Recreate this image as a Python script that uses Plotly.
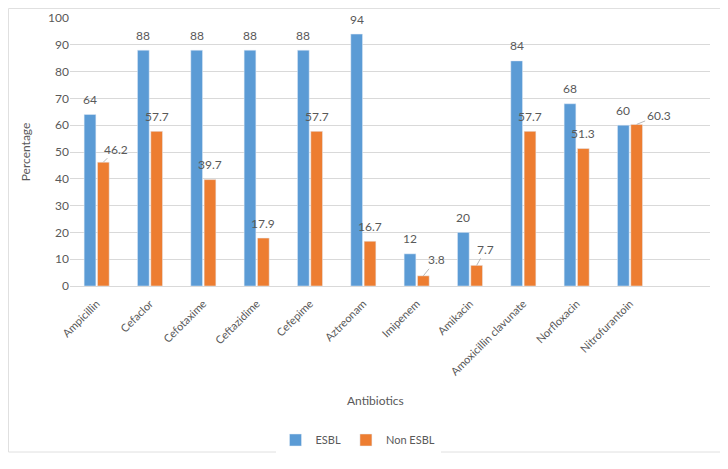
import plotly.graph_objects as go

categories = ["Ampicillin", "Cefaclor", "Cefotaxime", "Ceftazidime", "Cefepime", "Aztreonam",
              "Imipenem", "Amikacin", "Amoxicillin clavunate", "Norfloxacin", "Nitrofurantoin"]
esbl = [64, 88, 88, 88, 88, 94, 12, 20, 84, 68, 60]
non_esbl = [46.2, 57.7, 39.7, 17.9, 57.7, 16.7, 3.8, 7.7, 57.7, 51.3, 60.3]
y_ticks = [0, 10, 20, 30, 40, 50, 60, 70, 80, 90, 100]

FONT = "Lato, Open Sans, sans-serif"
GREY = "#595959"
BLUE = "#5B9BD5"
ORANGE = "#ED7D31"

# label placement tweaks (pixels): (dx, dy) for labels drawn with a leader line
leader_offsets = {
    ("Non ESBL", "Ampicillin"): (13, -13),
    ("Non ESBL", "Imipenem"): (13, -16),
    ("Non ESBL", "Amikacin"): (9, -16),
    ("Non ESBL", "Nitrofurantoin"): (22, -9),
}

# page is rendered with an 8px body margin; compensate
W, H = 720, 461
L, R, T, B = 62, 18, 10, 183
pw, ph = W - L - R, H - T - B

fig = go.Figure()
fig.add_trace(go.Bar(x=categories, y=esbl, name="ESBL", marker_color=BLUE))
fig.add_trace(go.Bar(x=categories, y=non_esbl, name="Non ESBL", marker_color=ORANGE))

bargap, groupgap = 0.5, 0.12
slot = pw / 12.0
bar_off = slot * (1 - bargap) / 4.0

annotations = []
for name, vals, sign in (("ESBL", esbl, -1), ("Non ESBL", non_esbl, 1)):
    for cat, v in zip(categories, vals):
        key = (name, cat)
        if key in leader_offsets:
            dx, dy = leader_offsets[key]
            annotations.append(dict(x=cat, y=v, xref="x", yref="y", text=str(v),
                                    xshift=sign * bar_off, showarrow=True, arrowhead=0,
                                    arrowwidth=0.8, arrowcolor="#A6A6A6", ax=dx, ay=dy,
                                    standoff=0, font=dict(size=12, color=GREY, family=FONT)))
        else:
            annotations.append(dict(x=cat, y=v, xref="x", yref="y", text=str(v),
                                    xshift=sign * bar_off, yshift=15, showarrow=False,
                                    xanchor="center", yanchor="middle",
                                    font=dict(size=12, color=GREY, family=FONT)))

annotations.append(dict(text="Antibiotics", xref="paper", yref="paper",
                        x=(367 - L) / pw, y=(278 - 392) / ph, showarrow=False,
                        font=dict(size=12, color=GREY, family=FONT),
                        xanchor="center", yanchor="middle"))

fig.update_layout(
    width=W, height=H,
    margin=dict(l=L, r=R, t=T, b=B, autoexpand=False),
    paper_bgcolor="white", plot_bgcolor="white",
    font=dict(family=FONT, color=GREY, size=12),
    barmode="group", bargap=bargap, bargroupgap=groupgap,
    showlegend=True,
    legend=dict(orientation="h", x=(350 - L) / pw, xanchor="center", y=(278 - 432) / ph,
                yanchor="middle", font=dict(size=11, color=GREY, family=FONT),
                itemwidth=30),
    xaxis=dict(range=[-0.5, 11.5], tickangle=-45, tickfont=dict(size=11, color=GREY),
               ticklabelstandoff=6,
               showgrid=False, showline=True, linecolor="#D9D9D9", ticks="", automargin=False),
    yaxis=dict(range=[0, 100], tickvals=y_ticks, tickfont=dict(size=12, color=GREY),
               showgrid=True, gridcolor="#D9D9D9", zeroline=False, ticks="", automargin=False,
               title=dict(text="Percentage", font=dict(size=12, color=GREY), standoff=14)),
    annotations=annotations,
    shapes=[dict(type="rect", xref="paper", yref="paper",
                 x0=(0.5 - L) / pw, x1=(717 - L) / pw, y0=(278 - 444) / ph, y1=(278 - 0.5) / ph,
                 line=dict(color="#E0E0E0", width=1), fillcolor="rgba(0,0,0,0)", layer="below")],
)

fig.write_html("out.html")
